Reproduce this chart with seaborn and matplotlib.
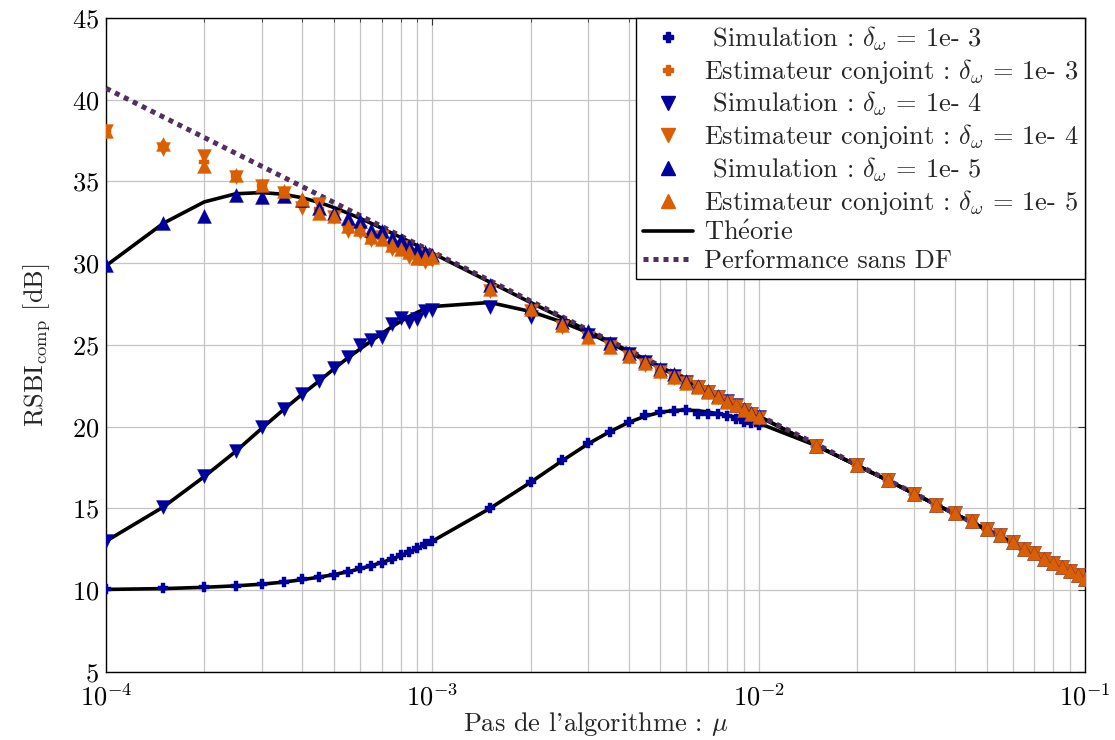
import matplotlib
matplotlib.use("Agg")
import matplotlib.pyplot as plt
from matplotlib.lines import Line2D
from matplotlib.ticker import LogLocator, MultipleLocator, NullFormatter
import seaborn as sns

# step sizes (mu)
mu = [1e-4, 1.5e-4, 2e-4, 2.5e-4, 3e-4, 3.5e-4, 4e-4, 4.5e-4, 5e-4, 5.5e-4,
      6e-4, 6.5e-4, 7e-4, 7.5e-4, 8e-4, 8.5e-4, 9e-4, 9.5e-4,
      1e-3, 1.5e-3, 2e-3, 2.5e-3, 3e-3, 3.5e-3, 4e-3, 4.5e-3, 5e-3, 5.5e-3,
      6e-3, 6.5e-3, 7e-3, 7.5e-3, 8e-3, 8.5e-3, 9e-3, 9.5e-3,
      1e-2, 1.5e-2, 2e-2, 2.5e-2, 3e-2, 3.5e-2, 4e-2, 4.5e-2, 5e-2, 5.5e-2,
      6e-2, 6.5e-2, 7e-2, 7.5e-2, 8e-2, 8.5e-2, 9e-2, 9.5e-2, 1e-1]

# common part of all curves for mu > 1e-2
tail_pts = [18.83, 17.65, 16.73, 15.90, 15.24, 14.73, 14.22, 13.73, 13.36,
            12.92, 12.55, 12.28, 11.94, 11.67, 11.43, 11.16, 10.96, 10.71]
tail_theory = [18.85, 17.64, 16.70, 15.90, 15.23, 14.67, 14.16, 13.70, 13.29,
               12.90, 12.55, 12.23, 11.93, 11.65, 11.39, 11.14, 10.92, 10.71]

theory_1e3 = [10.05, 10.10, 10.18, 10.27, 10.37, 10.50, 10.65, 10.80, 10.96, 11.13,
              11.31, 11.50, 11.70, 11.90, 12.12, 12.34, 12.56, 12.78,
              13.00, 15.00, 16.60, 17.92, 18.95, 19.70, 20.27, 20.65, 20.88, 21.00,
              21.02, 20.98, 20.90, 20.80, 20.70, 20.58, 20.46, 20.34, 20.22] + tail_theory
theory_1e4 = [13.00, 15.10, 16.95, 18.50, 19.90, 21.05, 22.00, 22.80, 23.55, 24.20,
              24.75, 25.25, 25.70, 26.10, 26.45, 26.75, 27.00, 27.20,
              27.35, 27.60, 27.05, 26.40, 25.75, 25.12, 24.55, 24.05, 23.60, 23.20,
              22.83, 22.49, 22.18, 21.88, 21.60, 21.35, 21.10, 20.86, 20.64] + tail_theory
theory_1e5 = [29.85, 32.45, 33.75, 34.25, 34.32, 34.22, 34.00, 33.72, 33.40, 33.07,
              32.75, 32.44, 32.14, 31.85, 31.58, 31.32, 31.07, 30.84,
              30.62, 28.85, 27.60, 26.65, 25.87, 25.20, 24.63, 24.12, 23.66, 23.25,
              22.87, 22.52, 22.20, 21.90, 21.62, 21.36, 21.11, 20.87, 20.65] + tail_theory

sim_1e3 = [10.05, 10.12, 10.20, 10.28, 10.37, 10.53, 10.67, 10.82, 10.96, 11.14,
           11.33, 11.49, 11.69, 11.90, 12.14, 12.34, 12.58, 12.80,
           13.02, 15.00, 16.60, 17.95, 19.00, 19.66, 20.30, 20.70, 20.90, 20.95,
           21.05, 20.80, 20.75, 20.75, 20.65, 20.50, 20.30, 20.20, 20.10] + tail_pts
sim_1e4 = [13.00, 15.10, 16.97, 18.50, 19.97, 21.10, 22.00, 22.80, 23.60, 24.27,
           24.98, 25.33, 25.50, 26.27, 26.68, 26.41, 26.56, 27.08,
           27.17, 27.30, 26.70, 26.15, 25.60, 25.05, 24.45, 23.95, 23.50, 23.10,
           22.75, 22.40, 22.10, 21.80, 21.55, 21.30, 21.05, 20.80, 20.60] + tail_pts
sim_1e5 = [29.88, 32.45, 32.90, 34.15, 34.05, 34.10, 33.85, 33.40, 33.10, 32.75,
           32.60, 32.05, 32.00, 31.55, 31.40, 31.05, 30.90, 30.70,
           30.50, 28.65, 27.30, 26.40, 25.85, 25.15, 24.50, 24.00, 23.55, 23.20,
           22.80, 22.50, 22.20, 21.90, 21.60, 21.35, 21.10, 20.85, 20.65] + tail_pts

est_1e3 = [38.10, 37.15, 36.20, 35.35, 34.75, 34.35, 33.65, 33.30, 32.85, 32.15,
           32.00, 31.50, 31.55, 31.00, 30.95, 30.55, 30.40, 30.20,
           30.30, 28.40, 27.15, 26.15, 25.45, 24.90, 24.30, 23.85, 23.40, 23.05,
           22.70, 22.42, 22.12, 21.82, 21.52, 21.28, 21.03, 20.78, 20.58] + tail_pts
est_1e4 = [38.10, 37.00, 36.55, 35.30, 34.70, 34.30, 33.40, 33.60, 32.80, 32.00,
           31.90, 31.40, 31.60, 30.90, 31.00, 30.40, 30.50, 30.10,
           30.20, 28.30, 27.10, 26.10, 25.40, 24.85, 24.25, 23.80, 23.35, 23.00,
           22.65, 22.40, 22.10, 21.80, 21.50, 21.25, 21.00, 20.75, 20.55] + tail_pts
est_1e5 = [38.10, 37.30, 35.95, 35.40, 34.80, 34.40, 33.90, 33.10, 32.90, 32.30,
           32.07, 31.60, 31.50, 31.10, 30.90, 30.70, 30.30, 30.30,
           30.40, 28.45, 27.20, 26.20, 25.50, 24.90, 24.30, 23.87, 23.40, 23.05,
           22.70, 22.44, 22.13, 21.83, 21.52, 21.30, 21.05, 20.80, 20.60] + tail_pts

# performance without frequency drift (straight on log axis)
mu_nodf = [1e-4, 1e-3, 1e-2, 1e-1]
perf_nodf = [40.7, 30.7, 20.7, 10.7]

blue = '#00009c'
orange = '#d95f02'
purple = '#52305e'
fs = 19

sns.set_style('white')
plt.rcParams['font.family'] = ['cmr10', 'DejaVu Serif']
plt.rcParams['mathtext.fontset'] = 'cm'
plt.rcParams['axes.unicode_minus'] = False
plt.rcParams['axes.formatter.use_mathtext'] = True

fig, ax = plt.subplots(figsize=(11.15, 7.4), dpi=100)
fig.subplots_adjust(left=0.0951, right=0.973, top=0.9757, bottom=0.0919)
ax.set_xscale('log')

for th in [theory_1e3, theory_1e4, theory_1e5]:
    sns.lineplot(x=mu, y=th, ax=ax, color='black', linewidth=2.6,
                 estimator=None, sort=False, zorder=3)
sns.lineplot(x=mu_nodf, y=perf_nodf, ax=ax, color=purple, linewidth=3.6,
             linestyle=(0, (1, 1)), estimator=None, sort=False, zorder=4)

series = [(sim_1e3, 'P', blue, 42), (est_1e3, 'P', orange, 42),
          (sim_1e4, 'v', blue, 100), (est_1e4, 'v', orange, 100),
          (sim_1e5, '^', blue, 100), (est_1e5, '^', orange, 100)]
z = 5
for vals, mk, col, size in series:
    sns.scatterplot(x=mu, y=vals, ax=ax, marker=mk, color=col, s=size,
                    linewidth=0.3, edgecolor=col, zorder=z)
    z += 1

ax.set_xlim(1e-4, 1e-1)
ax.set_ylim(5, 45)
ax.yaxis.set_major_locator(MultipleLocator(5))
ax.xaxis.set_major_locator(LogLocator(base=10))
ax.xaxis.set_minor_locator(LogLocator(base=10, subs=[2, 3, 4, 5, 6, 7, 8, 9]))
ax.xaxis.set_minor_formatter(NullFormatter())

ax.grid(True, which='major', color='#c4c4c4', linewidth=0.9, zorder=0)
ax.grid(True, which='minor', axis='x', color='#c4c4c4', linewidth=0.9, zorder=0)
ax.set_axisbelow(True)
ax.tick_params(which='both', direction='in', top=True, right=True,
               labelsize=fs, colors='#333333', labelcolor='black')
ax.tick_params(which='major', length=5, width=0.8, pad=5)
ax.tick_params(which='minor', length=3, width=0.6)
ax.tick_params(axis='x', which='major', pad=8)
for sp in ax.spines.values():
    sp.set_color('black')
    sp.set_linewidth(1.0)

ax.set_xlabel(r"Pas de l'algorithme : $\mu$", fontsize=fs, labelpad=0)
ax.set_ylabel(r'RSBI$_{\mathrm{comp}}$ [dB]', fontsize=fs, labelpad=14)

handles = [
    Line2D([], [], ls='none', marker='P', color=blue, ms=6.5),
    Line2D([], [], ls='none', marker='P', color=orange, ms=6.5),
    Line2D([], [], ls='none', marker='v', color=blue, ms=9.5),
    Line2D([], [], ls='none', marker='v', color=orange, ms=9.5),
    Line2D([], [], ls='none', marker='^', color=blue, ms=9.5),
    Line2D([], [], ls='none', marker='^', color=orange, ms=9.5),
    Line2D([], [], color='black', lw=2.6),
    Line2D([], [], color=purple, lw=3.6, ls=(0, (1, 1))),
]
labels = [
    r' Simulation : $\delta_\omega$ = 1e- 3',
    r'Estimateur conjoint : $\delta_\omega$ = 1e- 3',
    r' Simulation : $\delta_\omega$ = 1e- 4',
    r'Estimateur conjoint : $\delta_\omega$ = 1e- 4',
    r' Simulation : $\delta_\omega$ = 1e- 5',
    r'Estimateur conjoint : $\delta_\omega$ = 1e- 5',
    r'Th$\mathrm{\acute{e}}$orie',
    'Performance sans DF',
]
leg = ax.legend(handles, labels, loc='upper right', fontsize=fs,
                borderaxespad=0, fancybox=False, framealpha=1,
                edgecolor='black', labelspacing=0.15, handlelength=1.9,
                handletextpad=0.4, borderpad=0.25)
leg.get_frame().set_linewidth(1.0)
leg.set_zorder(20)

plt.savefig('out.png', dpi=100)
